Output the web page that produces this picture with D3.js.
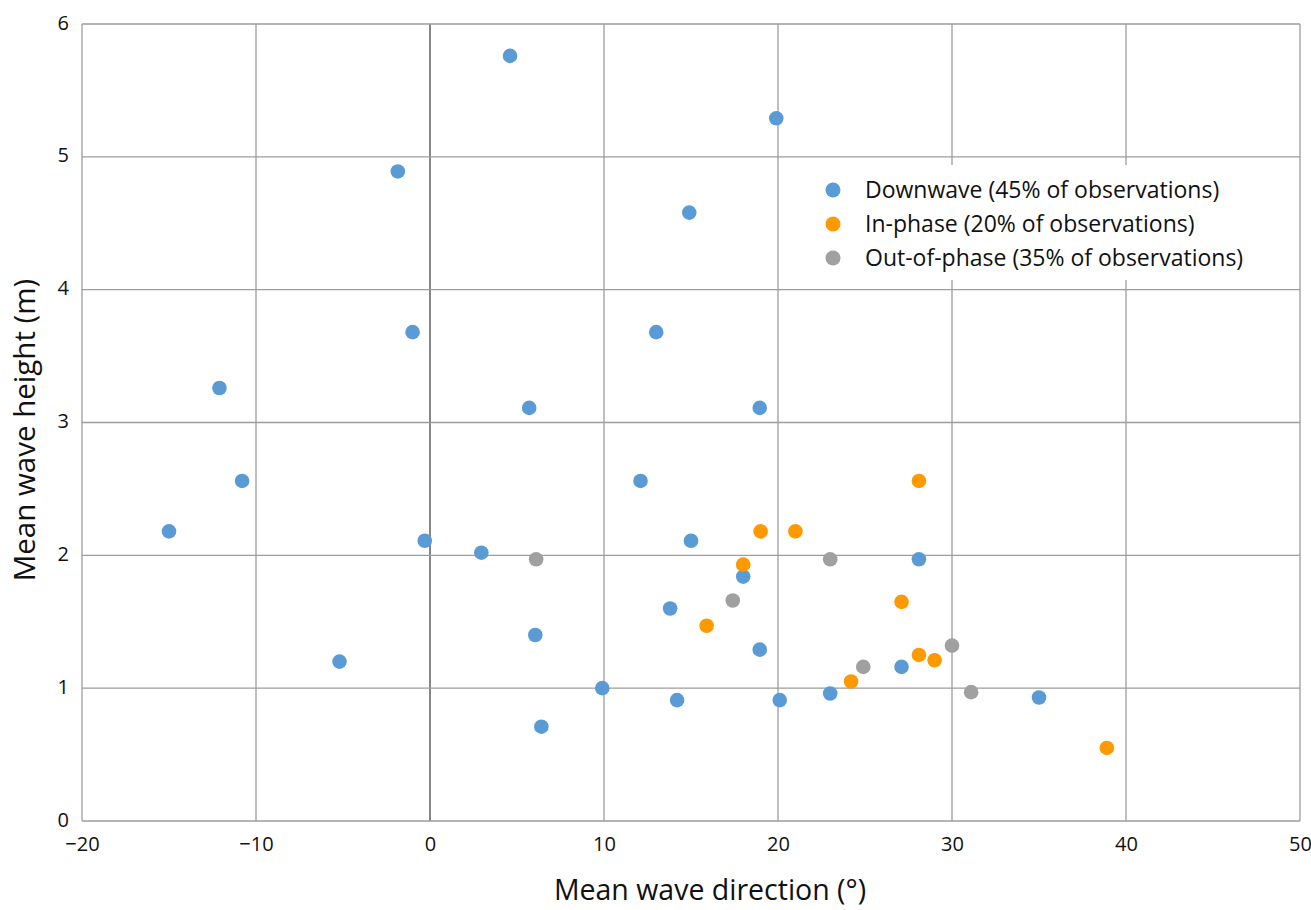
<!DOCTYPE html>
<html>
<head>
<meta charset="utf-8">
<script src="https://cdn.jsdelivr.net/npm/d3@7/dist/d3.min.js"></script>
<style>
  body { margin: 0; background: #fff; }
  svg text { font-family: "Open Sans", "Noto Sans", sans-serif; fill: #111; }
</style>
</head>
<body>
<svg id="chart"></svg>
<script>
//data: [direction (deg), height (m)]
var downwave = [
	[4.6, 5.76], [19.9, 5.29], [-1.85, 4.89], [14.9, 4.58], [-1.0, 3.68],
	[13.0, 3.68], [-12.1, 3.26], [5.7, 3.11], [18.95, 3.11], [-10.8, 2.56],
	[12.1, 2.56], [-15.0, 2.18], [-0.3, 2.11], [2.95, 2.02], [15.0, 2.11],
	[28.1, 1.97], [18.0, 1.84], [13.8, 1.6], [6.05, 1.4], [18.95, 1.29],
	[-5.2, 1.2], [27.1, 1.16], [9.9, 1.0], [14.2, 0.91], [20.1, 0.91],
	[23.0, 0.96], [35.0, 0.93], [6.4, 0.71]
];
var inphase = [
	[28.1, 2.56], [19.0, 2.18], [21.0, 2.18], [18.0, 1.93], [27.1, 1.65],
	[15.9, 1.47], [28.1, 1.25], [29.0, 1.21], [24.2, 1.05], [38.9, 0.55]
];
var outphase = [
	[6.1, 1.97], [23.0, 1.97], [17.4, 1.66], [24.9, 1.16], [30.0, 1.32], [31.1, 0.97]
];

var seriesNames = [
	"Downwave (45% of observations)",
	"In-phase (20% of observations)",
	"Out-of-phase (35% of observations)"
];
var seriesColors = ["#5a9bd5", "#ff9900", "#a0a0a0"];

var xTicks = [-20, -10, 0, 10, 20, 30, 40, 50];
var yTicks = [0, 1, 2, 3, 4, 5, 6];

//canvas info ("top" is taken by window, so plot* names)
var width = 1311;
var height = 910;
var plotLeft = 82, plotRight = 1300, plotTop = 24, plotBottom = 821;

var svg = d3.select("#chart")
	.attr("width", width)
	.attr("height", height);

var x = d3.scaleLinear().domain([-20, 50]).range([plotLeft, plotRight]);
var y = d3.scaleLinear().domain([0, 6]).range([plotBottom, plotTop]);

//grid
var grid = svg.append("g");
grid.selectAll(".vx")
	.data(xTicks)
	.enter().append("line")
	.attr("x1", function(d) { return x(d); })
	.attr("x2", function(d) { return x(d); })
	.attr("y1", plotTop)
	.attr("y2", plotBottom)
	.attr("stroke", function(d) { return d == 0 ? "#7a7a7a" : "#9d9d9d"; })
	.attr("stroke-width", function(d) { return d == 0 ? 1.8 : 1.3; });

grid.selectAll(".hy")
	.data(yTicks)
	.enter().append("line")
	.attr("x1", plotLeft)
	.attr("x2", plotRight)
	.attr("y1", function(d) { return y(d); })
	.attr("y2", function(d) { return y(d); })
	.attr("stroke", "#9d9d9d")
	.attr("stroke-width", 1.3);

//axes (labels only, the grid draws the lines)
var xAxis = svg.append("g")
	.attr("transform", "translate(0," + plotBottom + ")")
	.call(d3.axisBottom(x).tickValues(xTicks).tickSize(0).tickPadding(16));
var yAxis = svg.append("g")
	.attr("transform", "translate(" + plotLeft + ",0)")
	.call(d3.axisLeft(y).tickValues(yTicks).tickFormat(d3.format("d")).tickSize(0).tickPadding(13));

[xAxis, yAxis].forEach(function(a) {
	a.select(".domain").remove();
	a.selectAll("text")
		.style("font-family", "'Open Sans', sans-serif")
		.style("font-size", "20px")
		.attr("fill", "#111");
});
yAxis.selectAll("text").attr("dy", "0.25em");

//legend background covers the grid
svg.append("rect")
	.attr("x", 805)
	.attr("y", 165)
	.attr("width", plotRight - 805 - 1)
	.attr("height", 115)
	.attr("fill", "#fff");

//points
var sets = [downwave, inphase, outphase];
sets.forEach(function(s, i) {
	svg.append("g").selectAll("circle")
		.data(s)
		.enter().append("circle")
		.attr("cx", function(d) { return x(d[0]); })
		.attr("cy", function(d) { return y(d[1]); })
		.attr("r", 7.3)
		.attr("fill", seriesColors[i]);
});

//legend
var legend = svg.append("g").attr("transform", "translate(833,190)");
seriesNames.forEach(function(name, i) {
	legend.append("circle")
		.attr("cx", 0)
		.attr("cy", i * 34)
		.attr("r", 7.5)
		.attr("fill", seriesColors[i]);
	legend.append("text")
		.attr("x", 32)
		.attr("y", i * 34 + 8)
		.style("font-size", "23px")
		.text(name);
});

//axis titles
svg.append("text")
	.attr("x", 710)
	.attr("y", 900)
	.attr("text-anchor", "middle")
	.style("font-size", "28.5px")
	.text("Mean wave direction (°)");

svg.append("text")
	.attr("transform", "translate(35,430) rotate(-90)")
	.attr("text-anchor", "middle")
	.style("font-size", "29.5px")
	.text("Mean wave height (m)");
</script>
</body>
</html>
